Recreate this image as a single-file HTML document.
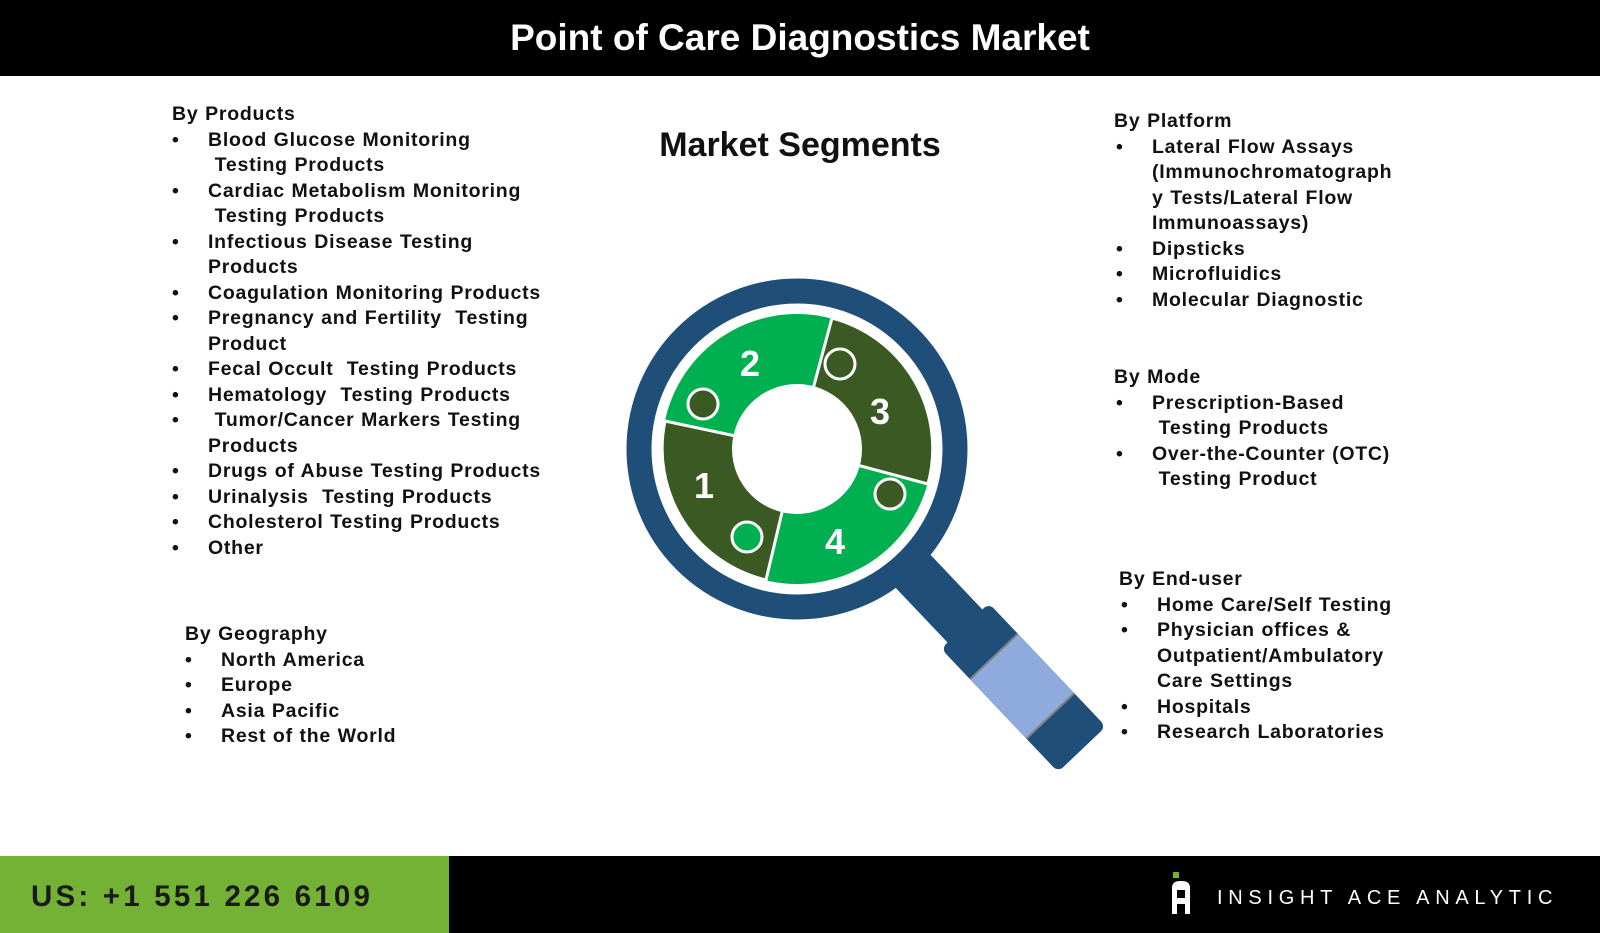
<!DOCTYPE html>
<html><head><meta charset="utf-8"><style>
body{margin:0;width:1600px;height:933px;position:relative;background:#fff;font-family:"Liberation Sans",Arial,sans-serif;overflow:hidden}
.hdr{position:absolute;left:0;top:0;width:1600px;height:76px;background:#000;color:#fff;font-weight:bold;font-size:37px;text-align:center;line-height:76px}
.t{position:absolute;font-weight:bold;font-size:19.5px;letter-spacing:0.75px;word-spacing:0.5px;line-height:25.5px;color:#111;white-space:nowrap}
.t div{position:relative}
.b{padding-left:36px}
.b::before{content:"•";position:absolute;left:0}
.ms{position:absolute;left:550px;width:500px;text-align:center;top:126px;font-size:34px;font-weight:bold;color:#111}
.ftg{position:absolute;left:0;top:856px;width:449px;height:77px;background:#74b236}
.ftb{position:absolute;left:449px;top:856px;width:1151px;height:77px;background:#000}
.ph{position:absolute;left:31px;top:880px;font-size:29.5px;font-weight:bold;letter-spacing:3.2px;color:#1a1a1a}
.lg{position:absolute;left:1217px;top:887px;font-size:20px;color:#fff;letter-spacing:5.7px}
</style></head><body>
<div class="hdr">Point of Care Diagnostics Market</div>
<div class="ms">Market Segments</div>

<div class="t" style="left:172px;top:102px">
<div>By Products</div>
<div class="b">Blood Glucose Monitoring<br>&nbsp;Testing Products</div>
<div class="b">Cardiac Metabolism Monitoring<br>&nbsp;Testing Products</div>
<div class="b">Infectious Disease Testing<br>Products</div>
<div class="b">Coagulation Monitoring Products</div>
<div class="b">Pregnancy and Fertility&nbsp; Testing<br>Product</div>
<div class="b">Fecal Occult&nbsp; Testing Products</div>
<div class="b">Hematology&nbsp; Testing Products</div>
<div class="b">&nbsp;Tumor/Cancer Markers Testing<br>Products</div>
<div class="b">Drugs of Abuse Testing Products</div>
<div class="b">Urinalysis&nbsp; Testing Products</div>
<div class="b">Cholesterol Testing Products</div>
<div class="b">Other</div>
</div>

<div class="t" style="left:185px;top:622px">
<div>By Geography</div>
<div class="b">North America</div>
<div class="b">Europe</div>
<div class="b">Asia Pacific</div>
<div class="b">Rest of the World</div>
</div>

<div class="t" style="left:1114px;top:109px">
<div>By Platform</div>
<div class="b" style="margin-left:2px">Lateral Flow Assays<br>(Immunochromatograph<br>y Tests/Lateral Flow<br>Immunoassays)</div>
<div class="b" style="margin-left:2px">Dipsticks</div>
<div class="b" style="margin-left:2px">Microfluidics</div>
<div class="b" style="margin-left:2px">Molecular Diagnostic</div>
</div>

<div class="t" style="left:1114px;top:365px">
<div>By Mode</div>
<div class="b" style="margin-left:2px">Prescription-Based<br>&nbsp;Testing Products</div>
<div class="b" style="margin-left:2px">Over-the-Counter (OTC)<br>&nbsp;Testing Product</div>
</div>

<div class="t" style="left:1119px;top:567px">
<div>By End-user</div>
<div class="b" style="margin-left:2px">Home Care/Self Testing</div>
<div class="b" style="margin-left:2px">Physician offices &amp;<br>Outpatient/Ambulatory<br>Care Settings</div>
<div class="b" style="margin-left:2px">Hospitals</div>
<div class="b" style="margin-left:2px">Research Laboratories</div>
</div>

<svg style="position:absolute;left:0;top:0" width="1600" height="933">
<g transform="translate(797,449) rotate(46.5)">
<rect x="160" y="-24" width="100" height="48" fill="#1f4e79"/>
<rect x="244" y="-33" width="170" height="66" rx="7" fill="#1f4e79"/>
<rect x="286" y="-33" width="82" height="66" fill="#8faadc"/>
<line x1="286" y1="-33" x2="286" y2="33" stroke="#7f7f7f" stroke-width="2"/>
<line x1="368" y1="-33" x2="368" y2="33" stroke="#7f7f7f" stroke-width="2"/>
</g>
<g transform="translate(797,449)">
<circle r="158" fill="none" stroke="#1f4e79" stroke-width="25"/>
<circle r="135" fill="#00b050"/>
<path d="M0,0 L35,-131 A135,135 0 0 1 131,35 Z" fill="#3b5a23" stroke="#fff" stroke-width="3"/>
<path d="M0,0 L-31,131 A135,135 0 0 1 -132,-28 Z" fill="#3b5a23" stroke="#fff" stroke-width="3"/>
<circle cx="43" cy="-85" r="15" fill="#3b5a23" stroke="#fff" stroke-width="3"/>
<circle cx="-94" cy="-45" r="15" fill="#3b5a23" stroke="#fff" stroke-width="3"/>
<circle cx="93" cy="45" r="15" fill="#3b5a23" stroke="#fff" stroke-width="3"/>
<circle cx="-50" cy="88" r="15" fill="#00b050" stroke="#fff" stroke-width="3"/>
<circle r="65" fill="#fff"/>
<g font-family="Liberation Sans,Arial,sans-serif" font-weight="bold" font-size="36" fill="#fff" text-anchor="middle">
<text x="-47" y="-73">2</text>
<text x="83" y="-25">3</text>
<text x="-93" y="49">1</text>
<text x="38" y="105">4</text>
</g>
</g>
</svg>

<div class="ftg"></div><div class="ftb"></div>
<div class="ph">US: +1 551 226 6109</div>
<svg style="position:absolute;left:1170px;top:872px" width="26" height="44">
<rect x="3" y="0" width="6" height="6" fill="#74b236"/>
<path d="M2,42 L2,16 Q2,9 10,9 L12,9 Q20,9 20,16 L20,42 L15,42 L15,32 L7,32 L7,42 Z" fill="#fff"/>
<rect x="7" y="18" width="8" height="8" fill="#000"/>
</svg>
<div class="lg">INSIGHT ACE ANALYTIC</div>
</body></html>
